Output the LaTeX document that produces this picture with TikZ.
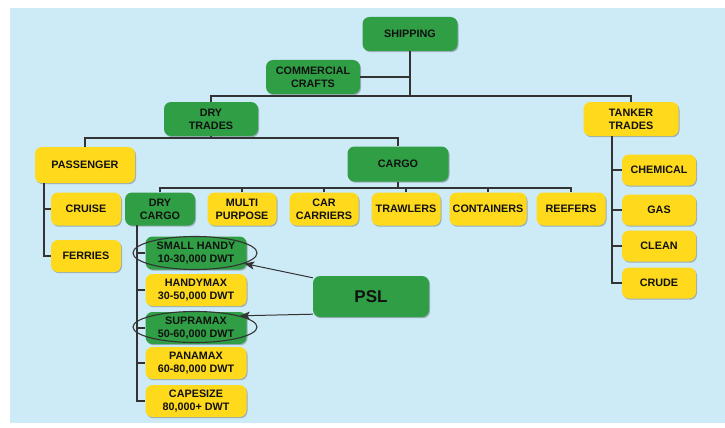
\documentclass[tikz,border=0pt]{standalone}
\usepackage{fontspec}
\setmainfont{Liberation Sans}
\usetikzlibrary{shapes.geometric,shadows,arrows.meta}
\definecolor{bgblue}{HTML}{CDEAF7}
\definecolor{boxgreen}{HTML}{2F9E44}
\definecolor{boxyellow}{HTML}{FFDA1C}
\definecolor{linec}{HTML}{333333}
\definecolor{txt}{HTML}{111111}
\tikzset{
  box/.style={rounded corners=7pt, align=center, inner sep=0pt, text=txt,
    font=\bfseries\fontsize{10.8}{13}\selectfont,
    drop shadow={shadow xshift=1pt, shadow yshift=-1.2pt, opacity=0.25, fill=black}},
  gbox/.style={box, fill=boxgreen},
  ybox/.style={box, fill=boxyellow},
  conn/.style={draw=linec, line width=1.1pt},
  ring/.style={ellipse, draw=linec, line width=1.1pt, inner sep=0pt},
  arr/.style={draw=linec, line width=1pt, -{Stealth[length=10pt,width=8pt,inset=2.5pt]}}
}
\begin{document}
\begin{tikzpicture}[x=1pt,y=-1pt]
\useasboundingbox (0,0) rectangle (725,428);
\fill[bgblue] (10,8) rectangle (725,423);

% nodes
\node[gbox, minimum width=95pt, minimum height=34pt] (ship) at (410,34) {SHIPPING};
\node[gbox, minimum width=94pt, minimum height=34pt] (cc) at (313,77) {COMMERCIAL\\CRAFTS};
\node[gbox, minimum width=94pt, minimum height=34pt] (dt) at (211,119) {DRY\\TRADES};
\node[ybox, minimum width=95pt, minimum height=34pt] (tt) at (631,119) {TANKER\\TRADES};
\node[ybox, minimum width=100pt, minimum height=36pt] (pass) at (85,165) {PASSENGER};
\node[gbox, minimum width=101pt, minimum height=35pt] (cargo) at (398,164) {CARGO};
\node[ybox, minimum width=70pt, minimum height=33pt] (cruise) at (86,209) {CRUISE};
\node[ybox, minimum width=70pt, minimum height=32pt] (ferries) at (86,256) {FERRIES};
\node[gbox, minimum width=70pt, minimum height=33pt] (dc) at (160,209) {DRY\\CARGO};
\node[ybox, minimum width=69pt, minimum height=33pt] (mp) at (242,209) {MULTI\\PURPOSE};
\node[ybox, minimum width=69pt, minimum height=33pt] (car) at (324,209) {CAR\\CARRIERS};
\node[ybox, minimum width=69pt, minimum height=33pt] (traw) at (406,209) {TRAWLERS};
\node[ybox, minimum width=77pt, minimum height=33pt] (cont) at (488,209) {CONTAINERS};
\node[ybox, minimum width=69pt, minimum height=33pt] (reef) at (571,209) {REEFERS};
\node[gbox, minimum width=101pt, minimum height=33pt] (sh) at (196,253) {SMALL HANDY\\10-30,000 DWT};
\node[ybox, minimum width=101pt, minimum height=32pt] (hm) at (196,290) {HANDYMAX\\30-50,000 DWT};
\node[gbox, minimum width=101pt, minimum height=32pt] (sm) at (196,328) {SUPRAMAX\\50-60,000 DWT};
\node[ybox, minimum width=101pt, minimum height=32pt] (pm) at (196,363) {PANAMAX\\60-80,000 DWT};
\node[ybox, minimum width=101pt, minimum height=32pt] (cs) at (196,401) {CAPESIZE\\80,000+ DWT};
\node[ybox, minimum width=74pt, minimum height=31pt] (chem) at (659,170) {CHEMICAL};
\node[ybox, minimum width=74pt, minimum height=31pt] (gas) at (659,210) {GAS};
\node[ybox, minimum width=74pt, minimum height=31pt] (clean) at (659,246) {CLEAN};
\node[ybox, minimum width=74pt, minimum height=31pt] (crude) at (659,283) {CRUDE};
\node[gbox, minimum width=116pt, minimum height=41pt, font=\bfseries\fontsize{17}{20}\selectfont] (psl) at (371,296.5) {PSL};

% connector junctions
\coordinate (busA) at (410,96);
\coordinate (busB) at (211,138);
\coordinate (busC) at (398,188);
\coordinate (pTop) at (44,183);
\coordinate (dTop) at (137,225);
\coordinate (tTop) at (612,136);

% connectors
\draw[conn] (ship.south) |- (cc.east);
\draw[conn] (ship.south) -- (busA);
\draw[conn] (dt.north) |- (busA) -| (tt.north);
\draw[conn] (dt.south) -- (busB);
\draw[conn] (pass.north) |- (busB) -| (cargo.north);
\draw[conn] (pTop) |- (ferries.west);
\draw[conn] (pTop |- cruise.west) -- (cruise.west);
\draw[conn] (cargo.south) -- (busC);
\draw[conn] (dc.north) |- (busC) -| (reef.north);
\draw[conn] (mp.north) -- (mp.north |- busC);
\draw[conn] (car.north) -- (car.north |- busC);
\draw[conn] (traw.north) -- (traw.north |- busC);
\draw[conn] (cont.north) -- (cont.north |- busC);
\draw[conn] (dTop) |- (cs.west);
\draw[conn] (dTop |- sh.west) -- (sh.west);
\draw[conn] (dTop |- hm.west) -- (hm.west);
\draw[conn] (dTop |- sm.west) -- (sm.west);
\draw[conn] (dTop |- pm.west) -- (pm.west);
\draw[conn] (tTop) |- (crude.west);
\draw[conn] (tTop |- chem.west) -- (chem.west);
\draw[conn] (tTop |- gas.west) -- (gas.west);
\draw[conn] (tTop |- clean.west) -- (clean.west);

% highlight rings
\node[ring, minimum width=124pt, minimum height=33pt] (e1) at (195,253) {};
\node[ring, minimum width=124pt, minimum height=31pt] (e2) at (195,327) {};

% arrows
\draw[arr] ([yshift=-2pt]psl.north west) -- (e1.-12);
\draw[arr] ([yshift=3pt]psl.south west) -- (e2.14);
\end{tikzpicture}
\end{document}
